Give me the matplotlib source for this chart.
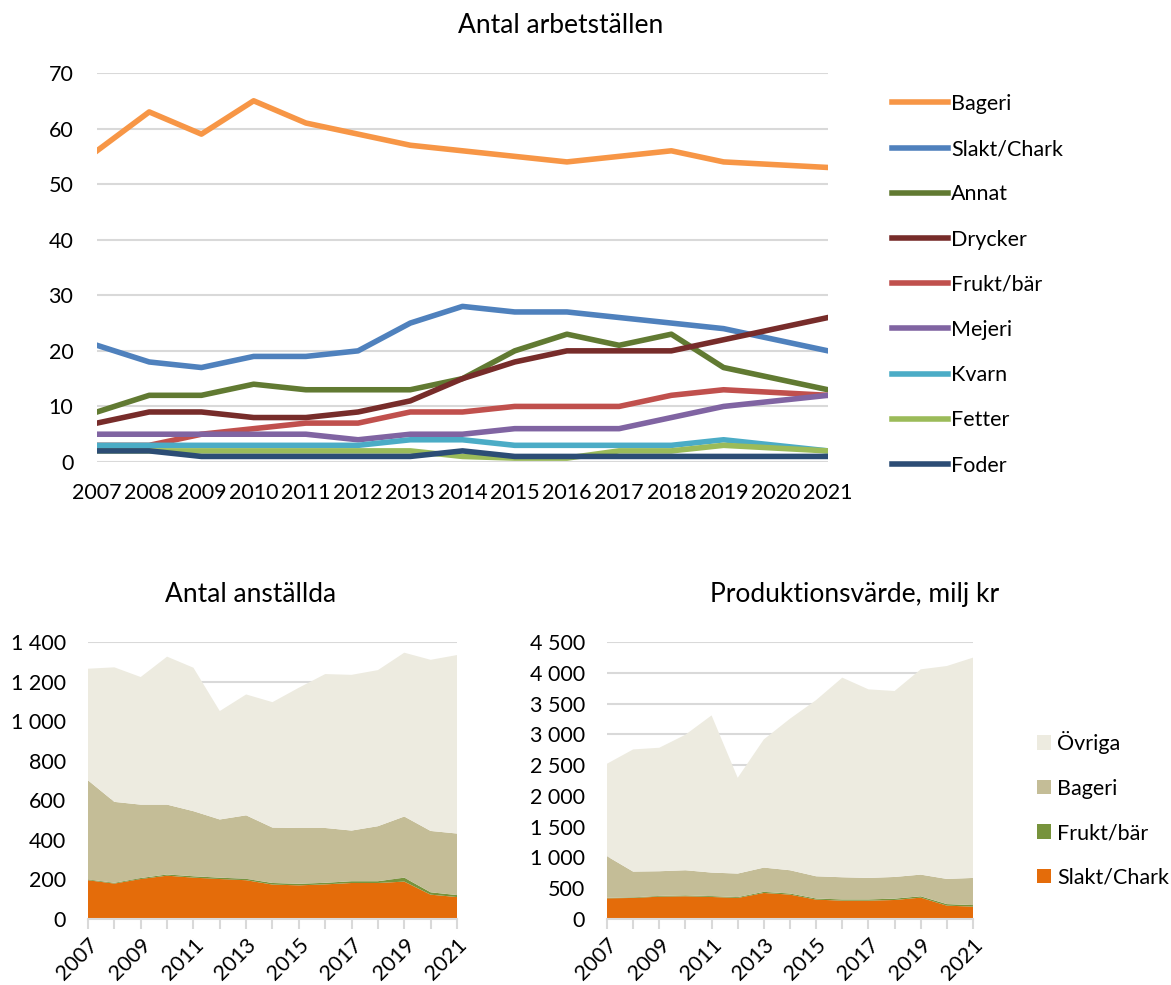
import numpy as np
import matplotlib.pyplot as plt
from matplotlib.ticker import FuncFormatter, MultipleLocator

plt.rcParams['font.family'] = ['Lato', 'DejaVu Sans']

years = np.arange(2007, 2022)

# Antal arbetställen
bageri_n = [56, 63, 59, 65, 61, 59, 57, 56, 55, 54, 55, 56, 54, 53.5, 53]
slakt_n = [21, 18, 17, 19, 19, 20, 25, 28, 27, 27, 26, 25, 24, 22, 20]
annat_n = [9, 12, 12, 14, 13, 13, 13, 15, 20, 23, 21, 23, 17, 15, 13]
drycker_n = [7, 9, 9, 8, 8, 9, 11, 15, 18, 20, 20, 20, 22, 24, 26]
frukt_n = [3, 3, 5, 6, 7, 7, 9, 9, 10, 10, 10, 12, 13, 12.5, 12]
mejeri_n = [5, 5, 5, 5, 5, 4, 5, 5, 6, 6, 6, 8, 10, 11, 12]
kvarn_n = [3, 3, 3, 3, 3, 3, 4, 4, 3, 3, 3, 3, 4, 3, 2]
fetter_n = [2, 2, 2, 2, 2, 2, 2, 1, 0.7, 0.7, 2, 2, 3, 2.5, 2]
foder_n = [2, 2, 1, 1, 1, 1, 1, 2, 1, 1, 1, 1, 1, 1, 1]

line_labels = ['Bageri', 'Slakt/Chark', 'Annat', 'Drycker', 'Frukt/bär',
               'Mejeri', 'Kvarn', 'Fetter', 'Foder']
line_series = [bageri_n, slakt_n, annat_n, drycker_n, frukt_n,
               mejeri_n, kvarn_n, fetter_n, foder_n]
line_colors = ['#F79646', '#4F81BD', '#617A32', '#772C2A', '#C0504D',
               '#8064A2', '#4BACC6', '#9BBB59', '#2C4D75']

# Antal anställda (stacked)
slakt_emp = [196, 179, 202, 219, 209, 202, 196, 174, 170, 175, 182, 182, 189, 123, 111]
frukt_emp = [4, 4, 5, 6, 7, 7, 7, 8, 8, 8, 9, 9, 20, 12, 10]
bageri_emp = [501, 409, 371, 353, 329, 294, 321, 280, 282, 277, 256, 278, 309, 310, 311]
ovriga_emp = [564, 680, 645, 748, 725, 548, 611, 634, 709, 778, 787, 789, 828, 865, 902]

# Produktionsvärde, milj kr (stacked)
slakt_val = [336, 342, 363, 369, 358, 342, 423, 396, 315, 298, 298, 309, 347, 217, 201]
frukt_val = [8, 10, 12, 15, 14, 14, 18, 18, 18, 20, 20, 22, 22, 25, 25]
bageri_val = [676, 418, 401, 408, 382, 382, 394, 378, 361, 360, 349, 352, 352, 409, 441]
ovriga_val = [1502, 1985, 2006, 2202, 2554, 1556, 2083, 2462, 2863, 3243, 3064, 3021, 3335, 3459, 3579]

area_labels = ['Slakt/Chark', 'Frukt/bär', 'Bageri', 'Övriga']
area_colors = ['#E46C0A', '#77933C', '#C4BD97', '#EDEBE0']

W, H = 1171, 985
fig = plt.figure(figsize=(W / 100, H / 100), dpi=100)


def px_axes(x0, y0, x1, y1):
    return fig.add_axes([x0 / W, 1 - y1 / H, (x1 - x0) / W, (y1 - y0) / H])


space_fmt = FuncFormatter(lambda v, p: f"{v:,.0f}".replace(",", " "))
grid_col = '#D9D9D9'
fs = 15.5

# top line chart
ax = px_axes(97, 73, 828, 462)
for lab, vals, col in zip(line_labels, line_series, line_colors):
    ax.plot(years, vals, color=col, lw=4, label=lab)
ax.set_xlim(2007, 2021)
ax.set_ylim(0, 70)
ax.set_xticks(years)
ax.yaxis.set_major_locator(MultipleLocator(10))
ax.grid(axis='y', color=grid_col, lw=1.5)
ax.set_axisbelow(True)
for s in ax.spines.values():
    s.set_visible(False)
ax.tick_params(length=0, labelsize=fs, pad=15)
ax.tick_params(axis='y', pad=17)
fig.text(561 / W, 1 - 33 / H, 'Antal arbetställen', fontsize=19,
         ha='center', va='baseline')
ax.legend(loc='upper left', bbox_to_anchor=(892 / W, 1 - 94 / H),
          bbox_transform=fig.transFigure, frameon=False, fontsize=fs,
          borderpad=0, borderaxespad=0,
          handlelength=2.6, labelspacing=1.17, handletextpad=0.15)


def area_chart(x0, x1, vals, ymax, step, title, tx):
    a = px_axes(x0, 642, x1, 919)
    a.stackplot(years, *vals, colors=area_colors, labels=area_labels, lw=0)
    a.set_xlim(2007, 2021)
    a.set_ylim(0, ymax)
    a.yaxis.set_major_locator(MultipleLocator(step))
    a.yaxis.set_major_formatter(space_fmt)
    a.grid(axis='y', color=grid_col, lw=1.5)
    a.set_axisbelow(True)
    for k in ['top', 'right', 'left']:
        a.spines[k].set_visible(False)
    a.spines['bottom'].set_color(grid_col)
    a.spines['bottom'].set_linewidth(1.5)
    a.set_xticks(years)
    a.set_xticklabels([str(y) if (y - 2007) % 2 == 0 else '' for y in years],
                      rotation=45, ha='right', rotation_mode='anchor')
    a.tick_params(axis='x', length=7, color=grid_col, width=1.5, direction='out',
                  labelsize=fs, pad=4)
    a.tick_params(axis='y', length=0, labelsize=fs, pad=16)
    fig.text(tx / W, 1 - 602 / H, title, fontsize=19, ha='center', va='baseline')
    return a


ax2 = area_chart(88, 457, [slakt_emp, frukt_emp, bageri_emp, ovriga_emp],
                 1400, 200, 'Antal anställda', 251)
ax3 = area_chart(607, 973, [slakt_val, frukt_val, bageri_val, ovriga_val],
                 4500, 500, 'Produktionsvärde, milj kr', 855)

h, l = ax3.get_legend_handles_labels()
ax3.legend(h[::-1], l[::-1], loc='upper left', bbox_to_anchor=(1037 / W, 1 - 731 / H),
           bbox_transform=fig.transFigure, frameon=False, fontsize=fs,
           borderpad=0, borderaxespad=0,
           handlelength=0.65, handleheight=0.65, labelspacing=1.14, handletextpad=0.3)

fig.savefig('out.png', dpi=100)
